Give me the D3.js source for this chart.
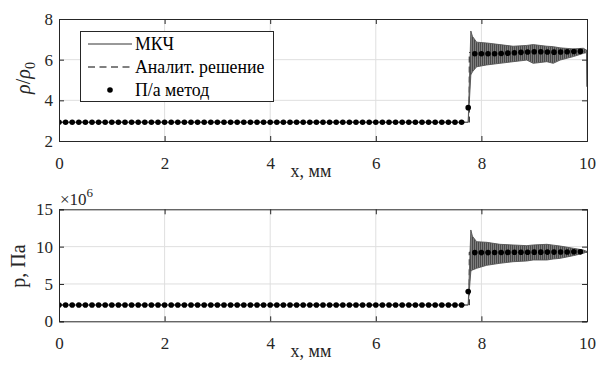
<!DOCTYPE html>
<html>
<head>
<meta charset="utf-8">
<script src="https://cdn.jsdelivr.net/npm/d3@7"></script>
<style>
  body { margin: 0; background: #fff; }
  svg, svg text { font-family: "Liberation Serif", "Times New Roman", serif !important; }
</style>
</head>
<body>
<script>
// x positions of the П/а method points, mm
const dotX = [0, 0.125, 0.25, 0.375, 0.5, 0.625, 0.75, 0.875, 1, 1.125, 1.25, 1.375, 1.5, 1.625, 1.75, 1.875,
  2, 2.125, 2.25, 2.375, 2.5, 2.625, 2.75, 2.875, 3, 3.125, 3.25, 3.375, 3.5, 3.625, 3.75, 3.875,
  4, 4.125, 4.25, 4.375, 4.5, 4.625, 4.75, 4.875, 5, 5.125, 5.25, 5.375, 5.5, 5.625, 5.75, 5.875,
  6, 6.125, 6.25, 6.375, 6.5, 6.625, 6.75, 6.875, 7, 7.125, 7.25, 7.375, 7.5, 7.625,
  7.75,
  7.875, 8, 8.125, 8.25, 8.375, 8.5, 8.625, 8.75, 8.875, 9, 9.125, 9.25, 9.375, 9.5, 9.625, 9.75, 9.875];

const rhoDots = [2.92, 2.92, 2.92, 2.92, 2.92, 2.92, 2.92, 2.92, 2.92, 2.92, 2.92, 2.92, 2.92, 2.92, 2.92, 2.92,
  2.92, 2.92, 2.92, 2.92, 2.92, 2.92, 2.92, 2.92, 2.92, 2.92, 2.92, 2.92, 2.92, 2.92, 2.92, 2.92,
  2.92, 2.92, 2.92, 2.92, 2.92, 2.92, 2.92, 2.92, 2.92, 2.92, 2.92, 2.92, 2.92, 2.92, 2.92, 2.92,
  2.92, 2.92, 2.92, 2.92, 2.92, 2.92, 2.92, 2.92, 2.92, 2.92, 2.92, 2.92, 2.92, 2.92,
  3.64,
  6.29, 6.29, 6.29, 6.29, 6.30, 6.32, 6.34, 6.36, 6.38, 6.39, 6.39, 6.38, 6.37, 6.38, 6.39, 6.40, 6.41];

const pDots = [2.18, 2.18, 2.18, 2.18, 2.18, 2.18, 2.18, 2.18, 2.18, 2.18, 2.18, 2.18, 2.18, 2.18, 2.18, 2.18,
  2.18, 2.18, 2.18, 2.18, 2.18, 2.18, 2.18, 2.18, 2.18, 2.18, 2.18, 2.18, 2.18, 2.18, 2.18, 2.18,
  2.18, 2.18, 2.18, 2.18, 2.18, 2.18, 2.18, 2.18, 2.18, 2.18, 2.18, 2.18, 2.18, 2.18, 2.18, 2.18,
  2.18, 2.18, 2.18, 2.18, 2.18, 2.18, 2.18, 2.18, 2.18, 2.18, 2.18, 2.18, 2.18, 2.18,
  4.0,
  9.2, 9.2, 9.2, 9.21, 9.22, 9.23, 9.24, 9.25, 9.25, 9.26, 9.26, 9.27, 9.27, 9.28, 9.29, 9.3, 9.3];

// МКЧ solution: oscillation envelope (upper / lower)
const rhoMkX  = [0, 7.75, 7.8, 7.83, 7.91, 8.10, 8.35, 8.60, 8.86, 8.98, 9.24, 9.36, 9.49, 9.74, 9.93, 9.99, 10];
const rhoMkHi = [2.92, 2.92, 7.41, 7.15, 6.86, 6.82, 6.74, 6.66, 6.70, 6.74, 6.66, 6.64, 6.58, 6.53, 6.56, 6.47, 6.47];
const rhoMkLo = [2.92, 2.92, 5.25, 5.40, 5.65, 5.74, 5.82, 5.90, 5.98, 5.82, 5.90, 5.82, 5.98, 6.15, 6.31, 6.35, 4.67];

const pMkX  = [0, 7.75, 7.8, 7.83, 7.91, 8.10, 8.35, 8.60, 8.86, 8.98, 9.24, 9.36, 9.49, 9.74, 9.93, 10];
const pMkHi = [2.18, 2.18, 12.23, 11.4, 10.66, 10.58, 10.31, 10.22, 10.13, 10.22, 10.31, 10.2, 10.08, 9.78, 9.55, 9.35];
const pMkLo = [2.18, 2.18, 6.7, 6.87, 7.1, 7.5, 7.77, 7.98, 8.08, 8.21, 8.21, 8.34, 8.43, 8.79, 9.1, 9.3];

// analytic step solution
const anX   = [0, 7.77, 7.77, 10];
const rhoAn = [2.92, 2.92, 6.35, 6.35];
const pAn   = [2.18, 2.18, 9.25, 9.25];

const xTicks = [0, 2, 4, 6, 8, 10];
const rhoTicks = [2, 4, 6, 8];
const pTicks = [0, 5, 10, 15];

const legendNames = ['МКЧ', 'Аналит. решение', 'П/а метод'];

const W = 597, H = 374;
const left = 59, right = 587;
const gridColor = '#dfdfdf';
const ink = '#262626';
const serif = '"Liberation Serif", "Times New Roman", serif';

const svg = d3.select('body').append('svg')
  .attr('width', W)
  .attr('height', H);

// streaky fill imitating the dense МКЧ oscillations
const pat = svg.append('defs').append('pattern')
  .attr('id', 'osc').attr('patternUnits', 'userSpaceOnUse')
  .attr('width', 2).attr('height', 4);
pat.append('rect').attr('width', 2).attr('height', 4).attr('fill', '#8a8a8a');
pat.append('rect').attr('width', 1.2).attr('height', 4).attr('fill', '#4a4a4a');

const x = d3.scaleLinear().domain([0, 10]).range([left, right]);

function panel(top, bottom, yDomain, yTicks, mkX, mkHi, mkLo, anY, dots) {
  const y = d3.scaleLinear().domain(yDomain).range([bottom, top]);
  const g = svg.append('g');

  // grid
  g.selectAll('.gx').data(xTicks.slice(1, -1)).enter().append('line')
    .attr('x1', d => x(d)).attr('x2', d => x(d))
    .attr('y1', top).attr('y2', bottom)
    .attr('stroke', gridColor).attr('stroke-width', 1);
  g.selectAll('.gy').data(yTicks.slice(1, -1)).enter().append('line')
    .attr('x1', left).attr('x2', right)
    .attr('y1', d => y(d)).attr('y2', d => y(d))
    .attr('stroke', gridColor).attr('stroke-width', 1);

  const clip = 'clip' + Math.round(top);
  svg.append('clipPath').attr('id', clip).append('rect')
    .attr('x', left).attr('y', top).attr('width', right - left).attr('height', bottom - top);
  const plot = g.append('g').attr('clip-path', 'url(#' + clip + ')');

  // analytic (dashed)
  plot.append('path')
    .attr('d', d3.line().x((d, i) => x(anX[i])).y(d => y(d))(anY))
    .attr('fill', 'none').attr('stroke', '#000').attr('stroke-width', 1)
    .attr('stroke-dasharray', '6,4');

  // МКЧ band
  plot.append('path')
    .attr('d', d3.area().x((d, i) => x(mkX[i])).y0((d, i) => y(mkLo[i])).y1(d => y(d))(mkHi))
    .attr('fill', 'url(#osc)')
    .attr('stroke', '#555').attr('stroke-width', 0.9).attr('stroke-linejoin', 'round');

  // dots
  plot.selectAll('circle').data(dots).enter().append('circle')
    .attr('cx', (d, i) => x(dotX[i])).attr('cy', d => y(d)).attr('r', 2.8)
    .attr('fill', '#000');

  // axes with inward ticks
  const ax = [
    g.append('g').attr('transform', `translate(0,${bottom})`)
      .call(d3.axisBottom(x).tickValues(xTicks).tickSize(-5).tickPadding(16).tickFormat(d3.format('d'))),
    g.append('g').attr('transform', `translate(0,${top})`)
      .call(d3.axisTop(x).tickValues(xTicks).tickSize(-5).tickFormat('')),
    g.append('g').attr('transform', `translate(${left},0)`)
      .call(d3.axisLeft(y).tickValues(yTicks).tickSize(-5).tickPadding(6).tickFormat(d3.format('d'))),
    g.append('g').attr('transform', `translate(${right},0)`)
      .call(d3.axisRight(y).tickValues(yTicks).tickSize(-5).tickFormat(''))
  ];
  ax.forEach(a => {
    a.attr('font-family', serif);
    a.select('.domain').attr('stroke', ink);
    a.selectAll('.tick line').attr('stroke', ink);
    a.selectAll('text').attr('font-size', 17).style('font-family', serif).attr('fill', ink);
  });

  // x label
  g.append('text')
    .attr('x', (left + right) / 2 - 12).attr('y', bottom + 36)
    .attr('text-anchor', 'middle').attr('font-size', 18).attr('fill', ink)
    .style('font-family', serif)
    .text('x, мм');
  return { g, y };
}

// top panel: density
const top1 = panel(19, 141, [2, 8], rhoTicks, rhoMkX, rhoMkHi, rhoMkLo, rhoAn, rhoDots);
const yl1 = top1.g.append('text')
  .attr('transform', 'translate(30,78) rotate(-90)')
  .attr('text-anchor', 'middle').attr('font-size', 20).attr('fill', ink)
  .style('font-family', serif);
yl1.append('tspan').attr('font-style', 'italic').text('ρ');
yl1.append('tspan').text('/');
yl1.append('tspan').attr('font-style', 'italic').text('ρ');
yl1.append('tspan').attr('font-size', 14).attr('dy', 5).text('0');

// bottom panel: pressure
const bot = panel(209.3, 321.3, [0, 15], pTicks, pMkX, pMkHi, pMkLo, pAn, pDots);
bot.g.append('text')
  .attr('transform', 'translate(25,266) rotate(-90)')
  .attr('text-anchor', 'middle').attr('font-size', 20).attr('fill', ink)
  .style('font-family', serif)
  .text('p, Па');
const mult = bot.g.append('text').attr('x', 60).attr('y', 205).attr('font-size', 17).attr('fill', ink)
  .style('font-family', serif);
mult.append('tspan').text('×10');
mult.append('tspan').attr('font-size', 13).attr('dy', -8).text('6');

// legend
const lg = svg.append('g');
lg.append('rect').attr('x', 80.5).attr('y', 31.5).attr('width', 193).attr('height', 70)
  .attr('fill', '#fff').attr('stroke', ink).attr('stroke-width', 1);
const rowY = [44, 67, 90];
legendNames.forEach((name, i) => {
  const cy = rowY[i];
  if (i === 0) {
    lg.append('line').attr('x1', 88).attr('x2', 132).attr('y1', cy).attr('y2', cy)
      .attr('stroke', '#333').attr('stroke-width', 1);
  } else if (i === 1) {
    lg.append('line').attr('x1', 88).attr('x2', 132).attr('y1', cy).attr('y2', cy)
      .attr('stroke', '#000').attr('stroke-width', 1).attr('stroke-dasharray', '7,4.5');
  } else {
    lg.append('circle').attr('cx', 110).attr('cy', cy).attr('r', 2.8).attr('fill', '#000');
  }
  lg.append('text').attr('x', 135).attr('y', cy).attr('dy', '0.35em')
    .attr('font-size', 17.8).attr('fill', '#000').style('font-family', serif).text(name);
});
</script>
</body>
</html>
